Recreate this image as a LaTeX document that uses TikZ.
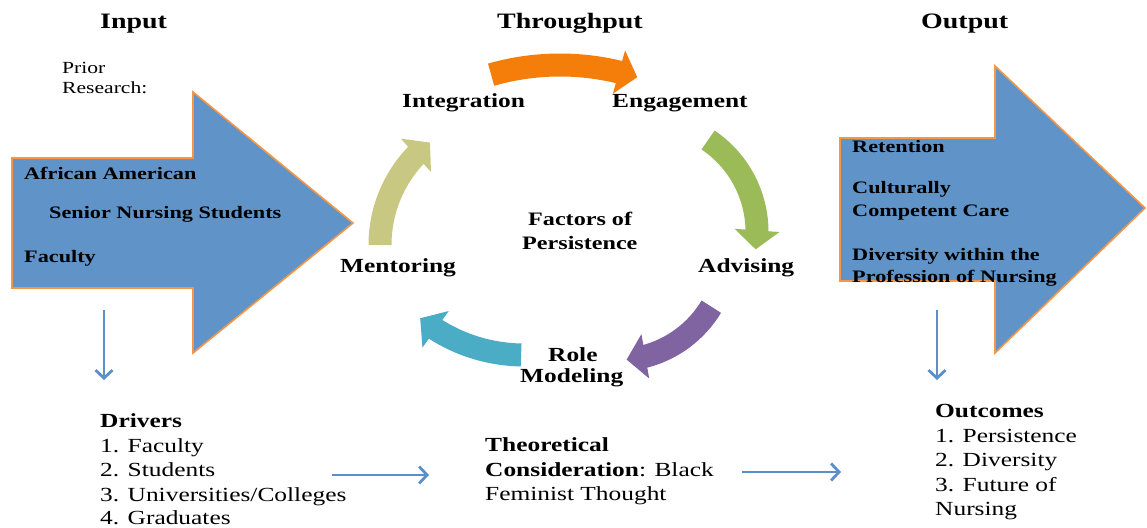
\documentclass[tikz,border=0pt]{standalone}
\usepackage{fontspec}
\setmainfont{Liberation Serif}[FakeStretch=1.27]
\usetikzlibrary{arrows.meta,bending}
\definecolor{bigblue}{RGB}{96,148,200}
\definecolor{bigedge}{RGB}{247,150,70}
\definecolor{smallblue}{RGB}{92,142,202}
\definecolor{corange}{RGB}{245,125,10}
\definecolor{cgreen}{RGB}{155,187,89}
\definecolor{cpurple}{RGB}{128,100,162}
\definecolor{ccyan}{RGB}{75,172,198}
\definecolor{ckhaki}{RGB}{200,200,130}
\newcommand\cycarrow[5]{% color, centre, radius, start, end
  \draw[cycband, draw=#1, -{Triangle[length=19pt,width=44pt]}]
    ([shift={(#2)}]#4:#3) arc[start angle=#4, end angle=#5, radius=#3];}
\begin{document}
\begin{tikzpicture}[x=1pt,y=-1pt,
  bigarrow/.style={fill=bigblue, draw=bigedge, line width=1.6pt, line join=miter},
  cycband/.style={line width=23pt},
  sarrow/.style={draw=smallblue, line width=2.8pt, -{Straight Barb[length=8pt,width=17pt]}},
  txt/.style={anchor=base west, inner sep=0pt, font=\fontsize{20}{24}\selectfont},
  head/.style={anchor=base west, inner sep=0pt, font=\fontsize{22}{26}\selectfont\bfseries},
  cyc/.style={anchor=base west, inner sep=0pt, font=\fontsize{20}{24}\selectfont\bfseries},
  inarr/.style={anchor=base west, inner sep=0pt, font=\fontsize{17.5}{21}\selectfont\bfseries},
  small/.style={anchor=base west, inner sep=0pt, font=\fontsize{17}{20}\selectfont}]
\useasboundingbox (0,0) rectangle (1147,527);

% big arrows
\draw[bigarrow] (12,158) -- (193,158) -- (193,92) -- (353,223) -- (193,353) -- (193,288) -- (12,288) -- cycle;
\draw[bigarrow] (840,138) -- (995,138) -- (995,66) -- (1145,208) -- (995,353) -- (995,281) -- (840,281) -- cycle;

% cycle arrows
\cycarrow{corange}{560,315}{250}{-106}{-72}
\cycarrow{cgreen}{646,232}{111}{-56}{9}
\cycarrow{cpurple}{617,250}{110}{31}{85}
\cycarrow{ccyan}{524,190}{165}{91}{129}
\cycarrow{ckhaki}{510,245}{130}{180}{232}

% headings
\node[head] (hin) at (100,29) {Input};
\node[head] (hthr) at (497,29) {Throughput};
\node[head] (hout) at (921,29) {Output};

% prior research
\node[small] (prior1) at (62,73) {Prior};
\node[small] (prior2) at (62,93) {Research:};

% left arrow text
\node[inarr] (aa) at (24,179) {African American};
\node[inarr] (sns) at (49,218) {Senior Nursing Students};
\node[inarr] (fac) at (24,262) {Faculty};

% cycle labels
\node[cyc] (integ) at (402,107) {Integration};
\node[cyc] (engag) at (612,107) {Engagement};
\node[cyc] (mentor) at (340,272) {Mentoring};
\node[cyc] (advis) at (698,272) {Advising};
\node[cyc] (role1) at (548,361) {Role};
\node[cyc] (role2) at (520,382) {Modeling};
\node[cyc, font=\fontsize{19}{23}\selectfont\bfseries] (fac1) at (528,225) {Factors of};
\node[cyc, font=\fontsize{19}{23}\selectfont\bfseries] (fac2) at (522,249) {Persistence};

% right arrow text
\node[inarr] (ret) at (852,152) {Retention};
\node[inarr] (cul1) at (852,193) {Culturally};
\node[inarr] (cul2) at (852,216) {Competent Care};
\node[inarr] (div1) at (852,260) {Diversity within the};
\node[inarr] (div2) at (852,282) {Profession of Nursing};

% drivers
\node[txt, font=\fontsize{20}{24}\selectfont\bfseries] (drv) at (100,427) {Drivers};
\node[txt] (d1) at (100,452) {1. Faculty};
\node[txt] (d2) at (100,476) {2. Students};
\node[txt] (d3) at (100,501) {3. Universities/Colleges};
\node[txt] (d4) at (100,524) {4. Graduates};

% theoretical
\node[txt, font=\fontsize{20}{24}\selectfont\bfseries] (th1) at (485,451) {Theoretical};
\node[txt] (th2) at (485,476) {\textbf{Consideration}: Black};
\node[txt] (th3) at (485,500) {Feminist Thought};

% outcomes
\node[txt, font=\fontsize{20}{24}\selectfont\bfseries] (out0) at (935,417) {Outcomes};
\node[txt] (o1) at (935,442) {1. Persistence};
\node[txt] (o2) at (935,466) {2. Diversity};
\node[txt] (o3) at (935,491) {3. Future of};
\node[txt] (o4) at (935,515) {Nursing};

% small connector arrows
\coordinate (ld1) at (104,310);
\coordinate (ld2) at (104,380);
\coordinate (rd1) at (937,310);
\coordinate (rd2) at (937,380);
\coordinate (h1a) at (332,475);
\coordinate (h1b) at (429,475);
\coordinate (h2a) at (742,472);
\coordinate (h2b) at (841,472);
\draw[sarrow] (ld1) -- (ld2);
\draw[sarrow] (rd1) -- (rd2);
\draw[sarrow] (h1a) -- (h1b);
\draw[sarrow] (h2a) -- (h2b);
\end{tikzpicture}
\end{document}
